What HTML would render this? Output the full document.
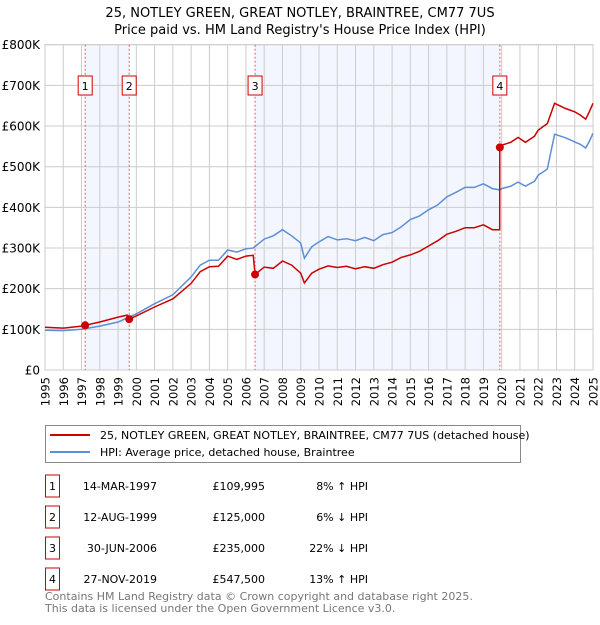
<!DOCTYPE html>
<html><head><meta charset="utf-8"><style>
body{margin:0;background:#fff;font-family:"Liberation Sans","DejaVu Sans",sans-serif}
svg text{font-family:"DejaVu Sans","Liberation Sans",sans-serif}
</style></head><body>
<svg id="c" width="600" height="620" xmlns="http://www.w3.org/2000/svg">
<text x="300" y="17" text-anchor="middle" font-size="13">25, NOTLEY GREEN, GREAT NOTLEY, BRAINTREE, CM77 7US</text>
<text x="300" y="34" text-anchor="middle" font-size="13">Price paid vs. HM Land Registry's House Price Index (HPI)</text>
<g id="plot"></g>
<g>
<rect x="45.5" y="425.5" width="475" height="37" fill="#fff" stroke="#888"/>
<line x1="50" y1="435" x2="90" y2="435" stroke="#cc0000" stroke-width="2"/>
<text x="100" y="439" font-size="11">25, NOTLEY GREEN, GREAT NOTLEY, BRAINTREE, CM77 7US (detached house)</text>
<line x1="50" y1="452" x2="90" y2="452" stroke="#5b8fd6" stroke-width="2"/>
<text x="100" y="456" font-size="11">HPI: Average price, detached house, Braintree</text>
</g>
<g id="tbl" font-size="11"></g>
<text x="45" y="600" font-size="11" fill="#777">Contains HM Land Registry data © Crown copyright and database right 2025.</text>
<text x="45" y="612" font-size="11" fill="#777">This data is licensed under the Open Government Licence v3.0.</text>
</svg>
<script>
const hpiYears=[1995,1996,1997,1998,1999,1999.6,2000,2001,2002,2003,2003.5,2004,2004.5,2005,2005.5,2006,2006.4,2007,2007.5,2008,2008.5,2009,2009.2,2009.6,2010,2010.5,2011,2011.5,2012,2012.5,2013,2013.5,2014,2014.5,2015,2015.5,2016,2016.5,2017,2017.5,2018,2018.5,2019,2019.5,2019.9,2020,2020.5,2020.9,2021.3,2021.8,2022,2022.5,2022.9,2023.5,2024,2024.3,2024.6,2024.8,2025];
const hpiValues=[98,97,100,108,118,130,138,163,185,229,258,270,270,295,290,298,300,322,330,345,330,312,275,303,315,328,320,323,318,326,318,333,338,352,370,379,394,406,426,437,449,449,458,446,443,446,452,462,452,464,479,494,580,571,561,555,546,562,582];
const propYears=[1995,1996,1997,1997.2,1998,1999,1999.5,1999.6,2000,2001,2002,2003,2003.5,2004,2004.5,2005,2005.5,2006,2006.4,2006.5,2007,2007.5,2008,2008.5,2009,2009.2,2009.6,2010,2010.5,2011,2011.5,2012,2012.5,2013,2013.5,2014,2014.5,2015,2015.5,2016,2016.5,2017,2017.5,2018,2018.5,2019,2019.5,2019.89,2019.9,2020,2020.5,2020.9,2021.3,2021.8,2022,2022.5,2022.9,2023.5,2024,2024.3,2024.6,2024.8,2025];
const propValues=[105,103,108,110,118,130,135,125,133,155,175,213,242,254,255,280,272,280,282,235,253,250,268,258,238,214,238,248,256,252,255,249,254,250,259,265,277,283,292,305,318,334,341,350,350,357,345,345,547.5,553,560,572,560,575,590,606,656,643,635,627,617,635,656];
const saleYears=[1997.2,1999.61,2006.5,2019.9];
const saleValues=[109.995,125,235,547.5];
const saleLabels=["1","2","3","4"];
const saleDates=["14-MAR-1997","12-AUG-1999","30-JUN-2006","27-NOV-2019"];
const salePrices=["£109,995","£125,000","£235,000","£547,500"];
const saleDiffs=["8% ↑ HPI","6% ↓ HPI","22% ↓ HPI","13% ↑ HPI"];
const yTicks=[0,100,200,300,400,500,600,700,800];
const yTickLabels=["£0","£100K","£200K","£300K","£400K","£500K","£600K","£700K","£800K"];
const xTicks=[1995,1996,1997,1998,1999,2000,2001,2002,2003,2004,2005,2006,2007,2008,2009,2010,2011,2012,2013,2014,2015,2016,2017,2018,2019,2020,2021,2022,2023,2024,2025];

const L=45,R=593,T=44.7,B=370;
const xs=y=>L+(y-1995)*(R-L)/30;
const ys=v=>B-v*(B-T)/800;
const NS="http://www.w3.org/2000/svg";
const plot=document.getElementById('plot');
function mk(tag,attrs,parent){const e=document.createElementNS(NS,tag);for(const k in attrs)e.setAttribute(k,attrs[k]);(parent||plot).appendChild(e);return e;}
for(let i=0;i<4;i+=2){const r=mk('rect',{x:xs(saleYears[i]),y:T,width:xs(saleYears[i+1])-xs(saleYears[i]),height:B-T,fill:'#f3f6fe'});

}
xTicks.forEach(t=>{const l=mk('line',{x1:xs(t),x2:xs(t),y1:T,y2:B,stroke:'#ccc'});


const tx=mk('text',{x:0,y:0,'font-size':11.5,'text-anchor':'end',transform:`translate(${xs(t)+4.5},377) rotate(-90)`});tx.textContent=t;

});
yTicks.forEach((t,i)=>{const l=mk('line',{x1:L,x2:R,y1:ys(t),y2:ys(t),stroke:'#ccc'});


const tx=mk('text',{x:40,y:ys(t)+4.5,'font-size':12,'text-anchor':'end'});tx.textContent=yTickLabels[i];

});
mk('rect',{x:L,y:T,width:R-L,height:B-T,fill:'none',stroke:'#ccc'});
saleYears.forEach((s,i)=>{const l=mk('line',{x1:xs(s),x2:xs(s),y1:T,y2:B,stroke:'#e06060','stroke-dasharray':'2,2'});


const g=mk('g',{});


mk('rect',{x:xs(s)-7,y:76,width:14,height:19,fill:'#fff',stroke:'#cc0000'},g);
const t=mk('text',{x:xs(s),y:90,'font-size':11,'text-anchor':'middle'},g);t.textContent=saleLabels[i];});
const hp=hpiYears.map((y,i)=>xs(y).toFixed(1)+','+ys(hpiValues[i]).toFixed(1)).join(' ');
const h=mk('polyline',{points:hp,fill:'none',stroke:'#5b8fd6','stroke-width':1.5});


const pp=propYears.map((y,i)=>xs(y).toFixed(1)+','+ys(propValues[i]).toFixed(1)).join(' ');
const p=mk('polyline',{points:pp,fill:'none',stroke:'#cc0000','stroke-width':1.5});


saleYears.forEach((s,i)=>{const c=mk('circle',{cx:xs(s),cy:ys(saleValues[i]),r:4,fill:'#cc0000'});

});
const tbl=document.getElementById('tbl');
const rowY=[487,518,549,580];
saleLabels.forEach((lab,i)=>{const g=mk('g',{},tbl);


mk('rect',{x:45.5,y:rowY[i]-12,width:14,height:22,fill:'#fff',stroke:'#cc0000'},g);
const a=mk('text',{x:52.5,y:rowY[i]+3,'text-anchor':'middle'},g);a.textContent=lab;
const b=mk('text',{x:157,y:rowY[i]+3,'text-anchor':'end'},g);b.textContent=saleDates[i];
const c=mk('text',{x:265,y:rowY[i]+3,'text-anchor':'end'},g);c.textContent=salePrices[i];
const d=mk('text',{x:368,y:rowY[i]+3,'text-anchor':'end'},g);d.textContent=saleDiffs[i];});
</script>
</body></html>
